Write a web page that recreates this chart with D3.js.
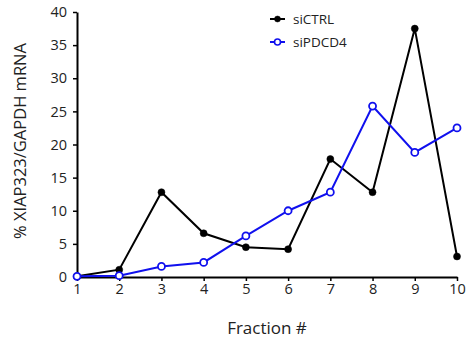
<!DOCTYPE html>
<html>
<head>
<meta charset="utf-8">
<script src="https://cdn.jsdelivr.net/npm/d3@7"></script>
<style>
  html, body { margin: 0; padding: 0; background: #fff; }
  svg { display: block; font-family: "Open Sans", "Liberation Sans", sans-serif; }
</style>
</head>
<body>
<svg id="chart" width="469" height="344"></svg>
<script>
// Fractions on the x axis
const fractions = [1, 2, 3, 4, 5, 6, 7, 8, 9, 10];
// % XIAP323 / GAPDH mRNA per fraction
const siCTRL   = [0.1, 1.1, 12.8, 6.6, 4.5, 4.2, 17.8, 12.8, 37.5, 3.1];
const siPDCD4  = [0.1, 0.2, 1.6, 2.2, 6.2, 10.0, 12.8, 25.8, 18.8, 22.5];
const yTicks = [0, 5, 10, 15, 20, 25, 30, 35, 40];
const seriesNames = ["siCTRL", "siPDCD4"];

const svg = d3.select("#chart");
const x = d3.scaleLinear().domain([1, 10]).range([77, 457]);
const y = d3.scaleLinear().domain([0, 40]).range([277, 12]);

// Axes
const xAxis = svg.append("g")
  .attr("transform", `translate(0,${y(0)})`)
  .call(d3.axisBottom(x).tickValues(fractions).tickSize(4).tickSizeOuter(0).tickPadding(3));
const yAxis = svg.append("g")
  .attr("transform", `translate(${x(1)},0)`)
  .call(d3.axisLeft(y).tickValues(yTicks).tickSize(4).tickSizeOuter(0).tickPadding(6));

[xAxis, yAxis].forEach(g => {
  g.select(".domain").attr("stroke", "#000").attr("stroke-width", 2);
  g.selectAll(".tick line").attr("stroke", "#000").attr("stroke-width", 1.5);
  g.selectAll(".tick text").attr("fill", "#222").style("font-size", "14.5px")
    .style("font-family", "'Open Sans', sans-serif");
});

// Axis titles
svg.append("text")
  .attr("x", 267).attr("y", 334)
  .attr("text-anchor", "middle")
  .style("font-size", "17px").attr("fill", "#222")
  .text("Fraction #");
svg.append("text")
  .attr("transform", "translate(26,141) rotate(-90)")
  .attr("text-anchor", "middle")
  .style("font-size", "16.5px").attr("fill", "#222")
  .text("% XIAP323/GAPDH mRNA");

const line = d3.line().x((d, i) => x(fractions[i])).y(d => y(d));

const series = [
  { name: seriesNames[0], values: siCTRL, color: "#000000", fill: "#000000" },
  { name: seriesNames[1], values: siPDCD4, color: "#1010ee", fill: "#ffffff" }
];

// Lines first, then markers so the markers sit on top
series.forEach(s => {
  svg.append("path").datum(s.values)
    .attr("fill", "none").attr("stroke", s.color).attr("stroke-width", 2)
    .attr("d", line);
});
series.forEach(s => {
  svg.append("g").selectAll("circle").data(s.values).join("circle")
    .attr("cx", (d, i) => x(fractions[i]))
    .attr("cy", d => y(d))
    .attr("r", 3.5)
    .attr("fill", s.fill)
    .attr("stroke", s.color)
    .attr("stroke-width", s.fill === "#ffffff" ? 1.8 : 0.5);
});

// Legend
const legend = svg.append("g");
series.forEach((s, i) => {
  const ly = 19 + i * 23;
  legend.append("line").attr("x1", 270).attr("x2", 285).attr("y1", ly).attr("y2", ly)
    .attr("stroke", s.color).attr("stroke-width", 2);
  legend.append("circle").attr("cx", 277.5).attr("cy", ly).attr("r", 3)
    .attr("fill", s.fill).attr("stroke", s.color).attr("stroke-width", s.fill === "#ffffff" ? 1.6 : 0.5);
  legend.append("text").attr("x", 293).attr("y", ly).attr("dy", "0.35em")
    .style("font-size", "13.5px").attr("fill", "#222").text(s.name);
});
</script>
</body>
</html>
